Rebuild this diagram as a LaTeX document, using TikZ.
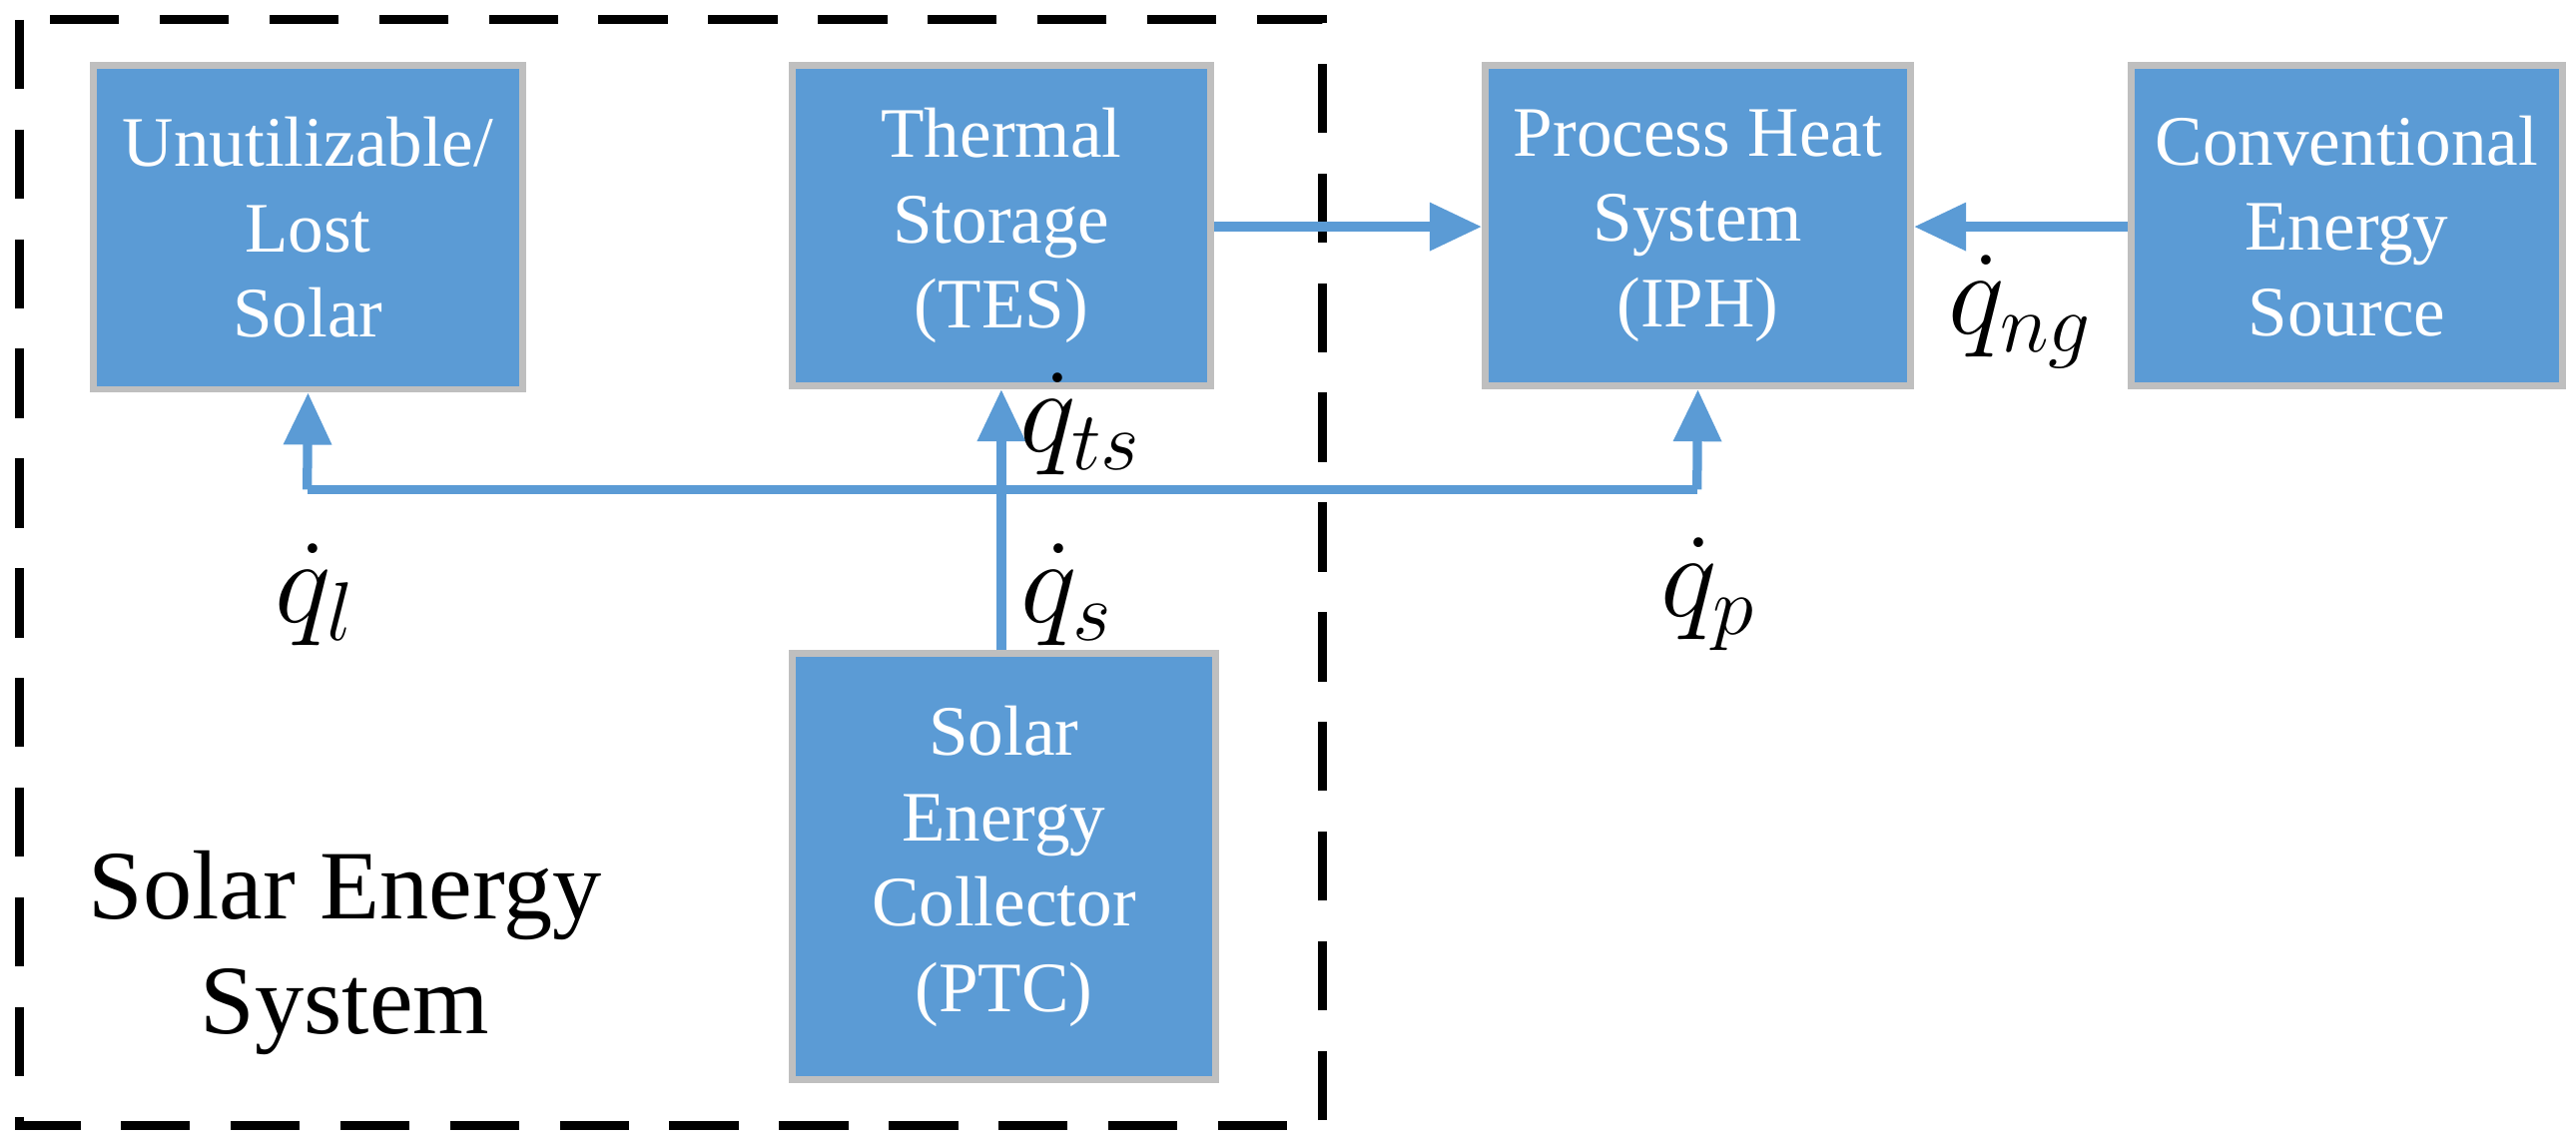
\documentclass[tikz,border=0pt]{standalone}
\usepackage{fontspec}
\setmainfont{Liberation Serif}
\usetikzlibrary{arrows.meta}
\definecolor{bfill}{HTML}{5B9BD5}
\definecolor{bline}{HTML}{BFBFBF}
\begin{document}
\begin{tikzpicture}[x=0.1mm,y=-0.1mm,
 box/.style={draw=bline,line width=1.2pt,fill=bfill,text=white,align=center,font=\fontsize{12.3}{14.8}\selectfont,inner sep=0pt},
 conn/.style={draw=bfill,line width=1.6pt},
 arr/.style={conn,-{Triangle[length=9pt,width=8pt]}},
 ql/.style={font=\fontsize{22}{24}\selectfont}]
\useasboundingbox (0,0) rectangle (1568,697);
\draw[line width=1.6pt,dash pattern=on 12pt off 7pt] (12,12) rectangle (805,685);
\node[box,minimum width=26.1mm,minimum height=19.7mm] (lost) at (187.5,138.5) {Unutilizable/\\Lost\\Solar};
\node[box,minimum width=25.5mm,minimum height=19.5mm] (tes) at (609.5,137.5) {Thermal\\Storage\\(TES)};
\node[box,minimum width=25.9mm,minimum height=19.5mm] (iph) at (1033.5,137.5) {Process Heat\\System\\(IPH)};
\node[box,minimum width=26.3mm,minimum height=19.5mm] (conv) at (1428.5,137.5) {Conventional\\Energy\\Source};
\node[box,minimum width=25.8mm,minimum height=25.9mm] (ptc) at (611,527.5) {Solar\\Energy\\Collector\\(PTC)};
\node[font=\fontsize{17}{20}\selectfont,align=center] (ses) at (210,580) {Solar Energy\\System};
\coordinate (jl) at (187,298);
\coordinate (jr) at (1033,298);
\draw[conn] (jl) -- (jr);
\draw[arr] (jl) -- (lost.south);
\draw[arr] (jr) -- (iph.south);
\draw[arr] (ptc.north -| tes.south) -- (tes.south);
\draw[arr] (tes.east |- 0,138) -- (iph.west |- 0,138);
\draw[arr] (conv.west |- 0,138) -- (iph.east |- 0,138);
\node[ql] (l1) at (192,362) {$\dot q_{l}$};
\node[ql] (l2) at (650,362) {$\dot q_{s}$};
\node[ql] (l3) at (1040,362) {$\dot q_{p}$};
\node[ql] (l4) at (658,258) {$\dot q_{ts}$};
\node[ql] (l5) at (1230,190) {$\dot q_{ng}$};
\end{tikzpicture}
\end{document}
